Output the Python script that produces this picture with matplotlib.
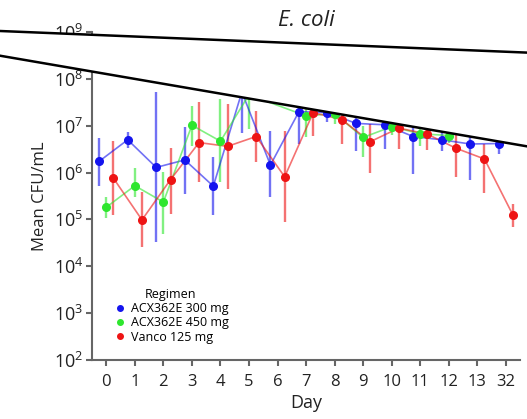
import numpy as np
import matplotlib
matplotlib.use('Agg')
import matplotlib.pyplot as plt
from matplotlib.patches import Polygon
from matplotlib.lines import Line2D

plt.rcParams['font.family'] = ['Open Sans', 'DejaVu Sans']
plt.rcParams['mathtext.fontset'] = 'custom'
plt.rcParams['mathtext.rm'] = 'Open Sans'

# 日（カテゴリ）
days = ['0', '1', '2', '3', '4', '5', '6', '7', '8', '9', '10', '11', '12', '13', '32']
regimens = ['ACX362E 300 mg', 'ACX362E 450 mg', 'Vanco 125 mg']

# log10 平均 CFU/mL と誤差範囲 (None = データなし)
blue_mean = [6.24, 6.70, 6.11, 6.27, 5.71, 7.72, 6.16, 7.30, 7.28, 7.05, 7.02, 6.77, 6.70, 6.61, 6.62]
blue_lo = [5.72, 6.52, 4.52, 5.55, 5.10, 6.84, 5.47, 6.60, 7.07, 6.45, 6.51, 5.97, 6.45, 5.85, 6.40]
blue_hi = [6.74, 6.87, 7.72, 6.98, 6.33, 8.00, 6.88, 7.60, 7.50, 7.30, 7.25, 7.00, 6.90, 6.85, 6.85]

green_mean = [5.26, 5.72, 5.37, 7.01, 6.67, 7.66, None, 7.21, 7.26, 6.75, 6.98, 6.83, 6.79, None, None]
green_lo = [5.03, 5.48, 4.69, 6.57, 5.79, 6.93, None, 6.77, 7.03, 6.33, 6.80, 6.57, 6.64, None, None]
green_hi = [5.48, 6.10, 6.01, 7.43, 7.57, 7.90, None, 7.50, 7.50, 7.00, 7.15, 7.00, 6.95, None, None]

red_mean = [5.88, 4.99, 5.85, 6.64, 6.56, 6.77, 5.91, 7.28, 7.13, 6.66, 6.95, 6.82, 6.52, 6.29, 5.09]
red_lo = [5.10, 4.41, 5.12, 5.79, 5.65, 6.22, 4.94, 6.79, 6.62, 5.99, 6.50, 6.48, 5.91, 5.56, 4.84]
red_hi = [6.67, 5.58, 6.52, 7.51, 7.46, 7.32, 6.88, 7.60, 7.40, 7.04, 7.20, 7.00, 6.80, 6.62, 5.33]

series = [
    (blue_mean, blue_lo, blue_hi, '#1414ee', -0.25),
    (green_mean, green_lo, green_hi, '#2ee62e', 0.0),
    (red_mean, red_lo, red_hi, '#ee1414', 0.25),
]

fig = plt.figure(figsize=(5.27, 4.19), dpi=100)
ax = fig.add_axes([0.1746, 0.1408, 0.8124, 0.7828])

for mean, lo, hi, color, offset in series:
    idx = [i for i, v in enumerate(mean) if v is not None]
    x = np.array(idx) + offset
    m = 10 ** np.array([mean[i] for i in idx])
    l = 10 ** np.array([lo[i] for i in idx])
    h = 10 ** np.array([hi[i] for i in idx])
    ax.errorbar(x, m, yerr=[m - l, h - m], fmt='none', ecolor=color,
                elinewidth=1.7, alpha=0.6, capsize=0, zorder=2)
    ax.plot(x, m, color=color, linewidth=1.2, alpha=0.6, zorder=3)
    ax.plot(x, m, 'o', color=color, markersize=5.5, zorder=4)

ax.set_yscale('log')
ax.set_ylim(1e2, 1e9)
ax.set_xlim(-0.5, 14.5)
ax.set_xticks(range(len(days)))
ax.set_xticklabels(days)
ax.minorticks_off()
ax.set_yticks([10 ** k for k in range(2, 10)])

for s in ['top', 'right']:
    ax.spines[s].set_visible(False)
for s in ['left', 'bottom']:
    ax.spines[s].set_color('#666666')
    ax.spines[s].set_linewidth(1.5)
ax.tick_params(axis='both', colors='#666666', width=1.5, length=4, labelcolor='#222222')
ax.tick_params(axis='x', labelsize=12, pad=6)
ax.tick_params(axis='y', labelsize=13, pad=2)

ax.set_xlabel('Day', fontsize=13, color='#222222', labelpad=3)
ax.set_ylabel('Mean CFU/mL', fontsize=12, color='#222222', labelpad=4)
fig.text(306 / 527, 1 - 21 / 419, 'E. coli', fontsize=16, style='italic',
         color='#222222', ha='center', va='center')

handles = [Line2D([], [], marker='o', linestyle='none', color=c, markersize=4)
           for _, _, _, c, _ in series]
leg = ax.legend(handles, regimens, title='Regimen', loc='upper left',
                bbox_to_anchor=(0.036, 0.235), frameon=False, fontsize=9,
                title_fontsize=9, handletextpad=0.3, labelspacing=0.1,
                handlelength=1.2, borderaxespad=0)

# 破断帯（2本の斜線の間を白抜き）
W, H = 527.0, 419.0
def fy(y):
    return 1 - y / H
band = Polygon([(0, fy(31)), (1, fy(31 + 0.041 * W)),
                (1, fy(55.7 + 0.172 * W)), (0, fy(55.7))],
               closed=True, transform=fig.transFigure, facecolor='white',
               edgecolor='none', zorder=10)
fig.add_artist(band)
for y0, k in [(31, 0.041), (55.7, 0.172)]:
    fig.add_artist(Line2D([0, 1], [fy(y0), fy(y0 + k * W)], transform=fig.transFigure,
                          color='black', linewidth=1.8, zorder=11))

fig.savefig('out.png', dpi=100)
